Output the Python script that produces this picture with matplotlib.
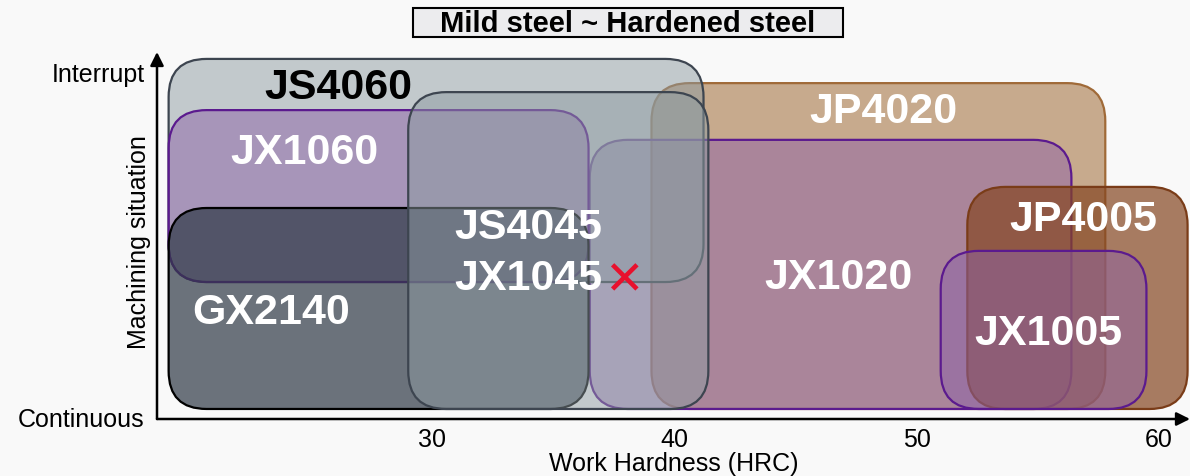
import matplotlib
matplotlib.use('Agg')
import matplotlib.pyplot as plt
from matplotlib.patches import FancyBboxPatch, Rectangle
from matplotlib.colors import to_rgba

plt.rcParams['font.family'] = ['Liberation Sans', 'DejaVu Sans']

# grades, listed back to front (draw order)
grades = ['JP4020', 'JX1020', 'JP4005', 'JX1005', 'JS4060', 'JX1060', 'GX2140', 'JS4045']
hrc_lo = [39.05, 36.5, 52.1, 51.0, 19.1, 19.1, 19.1, 29.0]
hrc_hi = [57.8, 56.4, 61.2, 59.5, 41.2, 36.45, 36.45, 41.4]
sit_lo = [0.23, 0.23, 0.23, 0.23, 3.9, 3.9, 0.23, 0.23]
sit_hi = [9.65, 8.01, 6.65, 4.8, 10.35, 8.87, 6.04, 9.39]

hrc_ticks = [30, 40, 50, 60]
sit_ticks = [0, 10]
sit_labels = ['Continuous', 'Interrupt']

# style per family: face, alpha, edge
styles = {
    'JP4020': ('#975d23', 0.5, '#a06a38'),
    'JP4005': ('#854621', 0.7, '#7a3c18'),
    'JX': ('#8e62a8', 0.5, '#5b1a8e'),
    'JS': ('#8d9ba1', 0.5, '#3d4550'),
    'GX': ('#2f3946', 0.7, '#000000'),
}

# label anchors (layout only)
label_pos = {
    'JS4060': (26.1, 9.54), 'JX1060': (24.7, 7.66), 'GX2140': (23.35, 3.03),
    'JS4045': (30.9, 5.49), 'JP4020': (48.64, 8.84), 'JX1020': (46.78, 4.05),
    'JP4005': (56.9, 5.72), 'JX1005': (55.45, 2.43),
}

bg = '#f9f9f9'
fig = plt.figure(figsize=(11.9, 4.77), dpi=100, facecolor=bg)
ax = fig.add_axes([157 / 1190, 57 / 477, 1 - 157 / 1190, 367 / 477], facecolor=bg)
ax.set_xlim(18.62, 61.3)
ax.set_ylim(-0.06, 10.55)

# circular corners in pixels
px_x = ax.get_position().width * 1190 / (61.3 - 18.62)
px_y = ax.get_position().height * 477 / (10.55 + 0.06)
r_px = 38
for i, g in enumerate(grades):
    key = g if g in styles else g[:2]
    fc, a, ec = styles[key]
    box = FancyBboxPatch((hrc_lo[i], sit_lo[i]), hrc_hi[i] - hrc_lo[i], sit_hi[i] - sit_lo[i],
                         boxstyle='round,pad=0,rounding_size=%f' % (r_px / px_x),
                         mutation_aspect=px_x / px_y,
                         facecolor=to_rgba(fc, a), edgecolor=ec, lw=1.6, zorder=2 + i)
    ax.add_patch(box)

for g, (x, y) in label_pos.items():
    col = 'black' if g == 'JS4060' else 'white'
    ha = 'left' if g == 'JS4045' else 'center'
    ax.text(x, y, g, ha=ha, va='center', fontsize=31, fontweight='bold', color=col, zorder=20)

t = ax.text(30.9, 4.02, 'JX1045', ha='left', va='center', fontsize=31, fontweight='bold',
            color='white', zorder=20)
ax.annotate('\u2715', xy=(1.0, 0.5), xycoords=t, xytext=(1, -2), textcoords='offset points',
            ha='left', va='center', fontsize=34, color='#e8112d', family='DejaVu Sans', zorder=21)

for s in ax.spines.values():
    s.set_visible(False)
ax.annotate('', xy=(1, 0), xytext=(0, 0), xycoords='axes fraction',
            arrowprops=dict(arrowstyle='-|>', lw=1.8, color='black', mutation_scale=20,
                            shrinkA=0, shrinkB=0), annotation_clip=False, zorder=30)
ax.annotate('', xy=(0, 1), xytext=(0, 0), xycoords='axes fraction',
            arrowprops=dict(arrowstyle='-|>', lw=1.8, color='black', mutation_scale=20,
                            shrinkA=0, shrinkB=0), annotation_clip=False, zorder=30)

ax.set_xticks(hrc_ticks)
ax.set_yticks(sit_ticks, sit_labels)
ax.tick_params(axis='x', length=0, pad=6, labelsize=18)
ax.tick_params(axis='y', length=0, pad=9, labelsize=18)
ax.set_xlabel('Work Hardness (HRC)', fontsize=18, labelpad=0)
ax.text(-0.0174, 0.485, 'Machining situation', transform=ax.transAxes, rotation=90,
        ha='center', va='center', fontsize=18)

# boxed title
fig.patches.append(Rectangle((413 / 1190, 1 - 38 / 477), 430 / 1190, 29 / 477,
                             transform=fig.transFigure, facecolor='#ececee',
                             edgecolor='black', lw=1.5))
fig.text(628 / 1190, 1 - 24 / 477, 'Mild steel ~ Hardened steel', ha='center', va='center',
         fontsize=21, fontweight='bold')

fig.savefig('out.png', dpi=100, facecolor=bg)
